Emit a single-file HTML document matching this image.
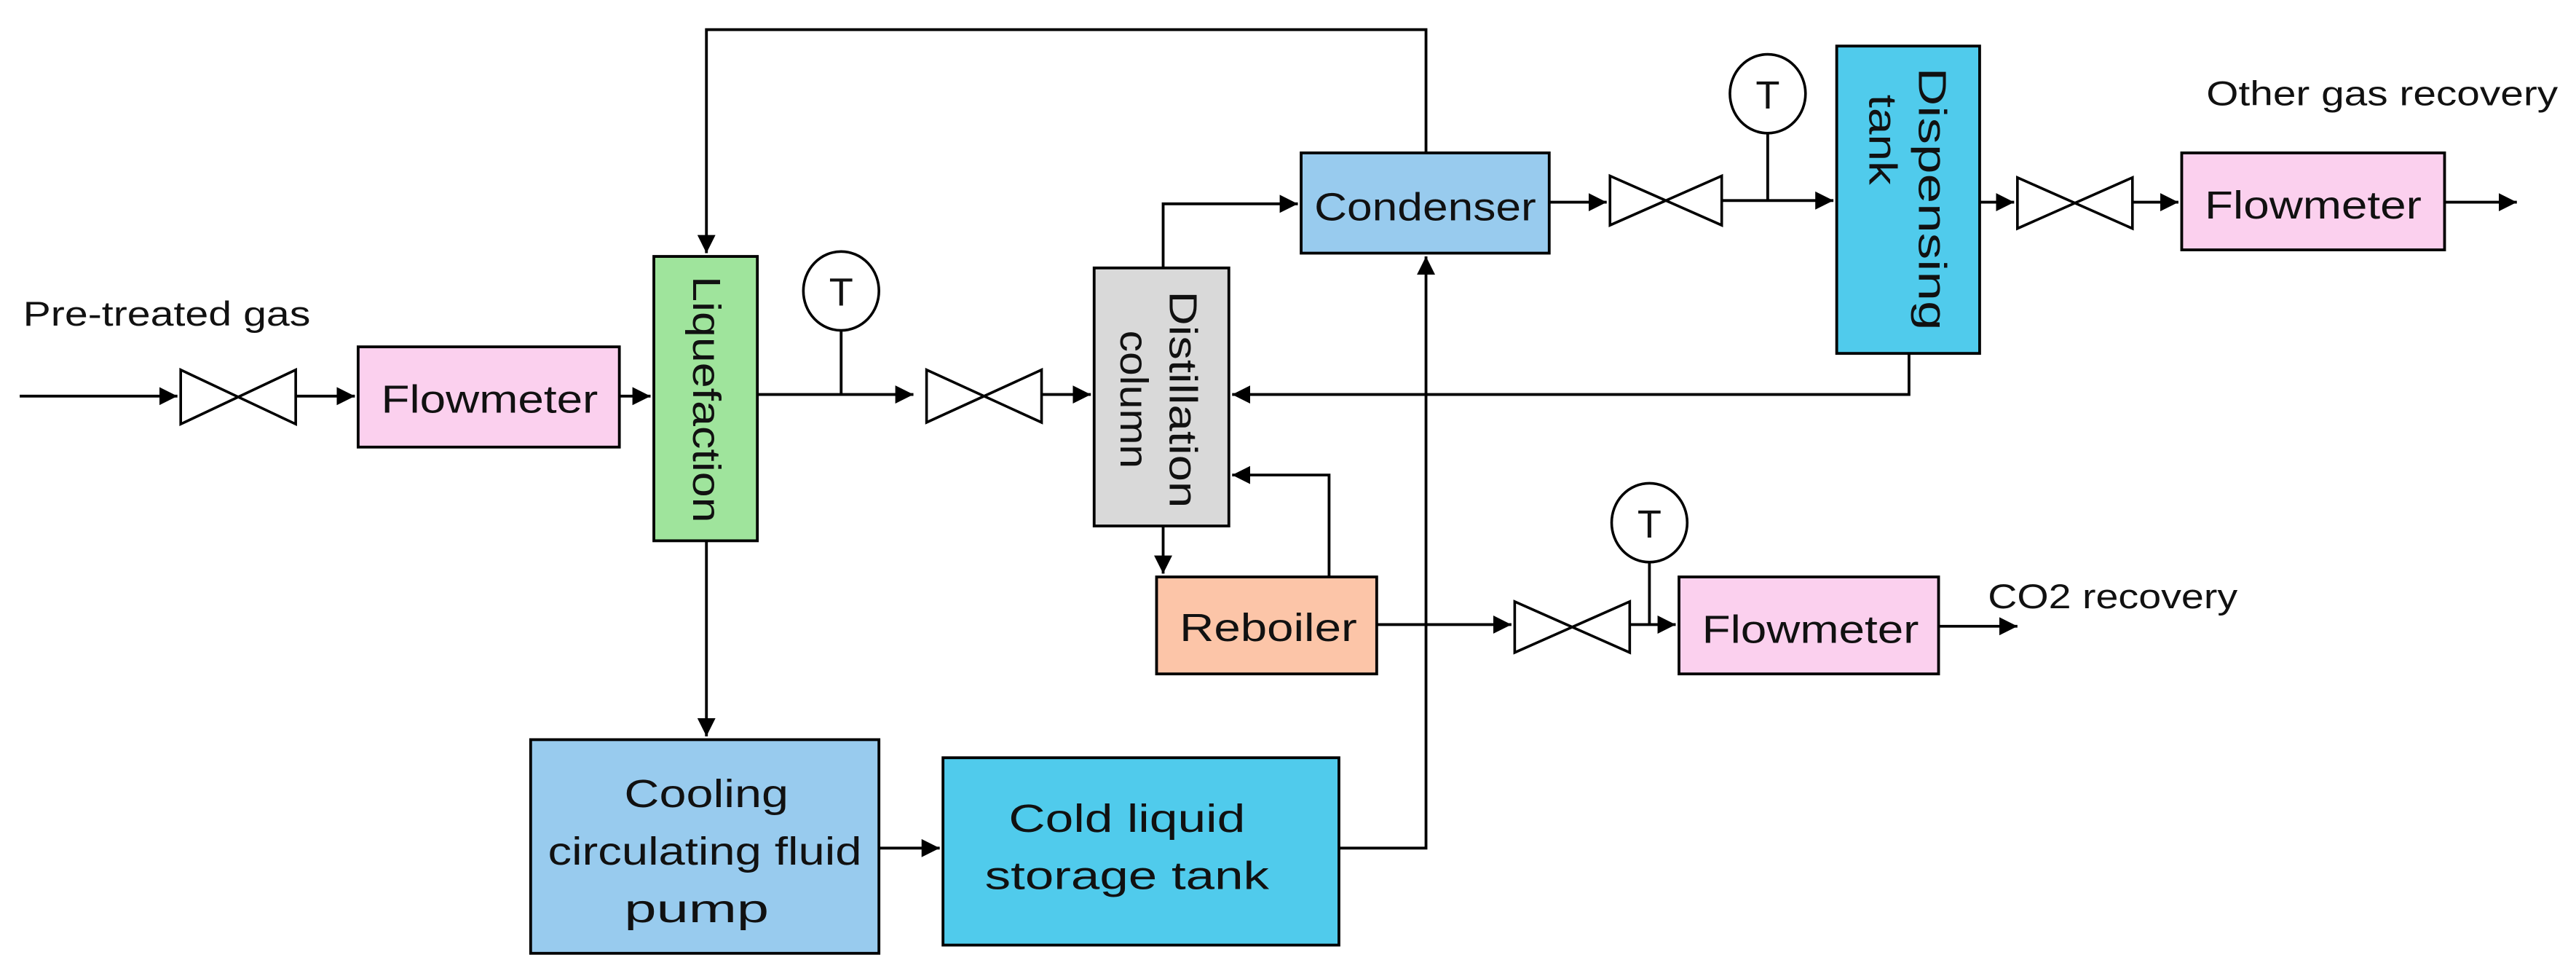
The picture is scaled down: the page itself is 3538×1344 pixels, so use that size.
<!DOCTYPE html>
<html><head><meta charset="utf-8"><style>
html,body{margin:0;padding:0;background:#fff;}
svg{display:block;}
text{font-family:"Liberation Sans Narrow","Liberation Sans",sans-serif;fill:#111;}
</style></head><body>
<svg width="3538" height="1344" viewBox="0 0 1568 595.6" xmlns="http://www.w3.org/2000/svg">
<defs>
<marker id="a" viewBox="0 0 10 10" refX="10" refY="5" markerWidth="6.5" markerHeight="6.5" markerUnits="strokeWidth" orient="auto"><path d="M0,0 L10,5 L0,10 Z" fill="#000"/></marker>
</defs>
<g fill="none" stroke="#000" stroke-width="1.7">
<line x1="12" y1="241" x2="108" y2="241" marker-end="url(#a)"/>
<line x1="180" y1="241" x2="216" y2="241" marker-end="url(#a)"/>
<line x1="377" y1="241" x2="396" y2="241" marker-end="url(#a)"/>
<polyline points="868,93 868,18 430,18 430,154" marker-end="url(#a)"/>
<line x1="461" y1="240" x2="556" y2="240" marker-end="url(#a)"/>
<line x1="512" y1="201" x2="512" y2="240"/>
<line x1="634" y1="240" x2="664" y2="240" marker-end="url(#a)"/>
<polyline points="708,163 708,124 790,124" marker-end="url(#a)"/>
<line x1="943" y1="123" x2="978" y2="123" marker-end="url(#a)"/>
<line x1="1048" y1="122" x2="1116" y2="122" marker-end="url(#a)"/>
<line x1="1076" y1="81" x2="1076" y2="122"/>
<polyline points="1162,215 1162,240 750,240" marker-end="url(#a)"/>
<line x1="1205" y1="123" x2="1226" y2="123" marker-end="url(#a)"/>
<line x1="1298" y1="123" x2="1326" y2="123" marker-end="url(#a)"/>
<line x1="1488" y1="123" x2="1532" y2="123" marker-end="url(#a)"/>
<line x1="708" y1="320" x2="708" y2="349" marker-end="url(#a)"/>
<polyline points="809,351 809,289 750,289" marker-end="url(#a)"/>
<line x1="838" y1="380" x2="920" y2="380" marker-end="url(#a)"/>
<line x1="1004" y1="342" x2="1004" y2="380"/>
<line x1="992" y1="380" x2="1020" y2="380" marker-end="url(#a)"/>
<line x1="1180" y1="381" x2="1228" y2="381" marker-end="url(#a)"/>
<line x1="430" y1="329" x2="430" y2="448" marker-end="url(#a)"/>
<line x1="535" y1="516" x2="572" y2="516" marker-end="url(#a)"/>
<polyline points="815,516 868,516 868,156" marker-end="url(#a)"/>
</g>
<g fill="#fff" stroke="#000" stroke-width="1.6">
<path d="M110,225 L180,258 L180,225 L110,258 Z"/>
<path d="M564,225 L634,257 L634,225 L564,257 Z"/>
<path d="M980,107 L1048,137 L1048,107 L980,137 Z"/>
<path d="M1228,108 L1298,139 L1298,108 L1228,139 Z"/>
<path d="M922,366 L992,397 L992,366 L922,397 Z"/>
<ellipse cx="512" cy="177" rx="23" ry="24"/>
<ellipse cx="1076" cy="57" rx="23" ry="24"/>
<ellipse cx="1004" cy="318" rx="23" ry="24"/>
</g>
<g stroke="#000" stroke-width="1.7">
<rect x="218" y="211" width="159" height="61" fill="#fbd0ee"/>
<rect x="398" y="156" width="63" height="173" fill="#9fe49c"/>
<rect x="666" y="163" width="82" height="157" fill="#d9d9d9"/>
<rect x="792" y="93" width="151" height="61" fill="#98cbee"/>
<rect x="1118" y="28" width="87" height="187" fill="#50cbec"/>
<rect x="1328" y="93" width="160" height="59" fill="#fbd0ee"/>
<rect x="704" y="351" width="134" height="59" fill="#fcc5a8"/>
<rect x="1022" y="351" width="158" height="59" fill="#fbd0ee"/>
<rect x="323" y="450" width="212" height="130" fill="#98cbee"/>
<rect x="574" y="461" width="241" height="114" fill="#50cbec"/>
</g>
<g font-size="21">
<text x="14" y="198" textLength="175" lengthAdjust="spacingAndGlyphs">Pre-treated gas</text>
<text x="232" y="251" font-size="24" textLength="132" lengthAdjust="spacingAndGlyphs">Flowmeter</text>
<text x="800" y="134" font-size="24" textLength="135" lengthAdjust="spacingAndGlyphs">Condenser</text>
<text x="1342" y="133" font-size="24" textLength="132" lengthAdjust="spacingAndGlyphs">Flowmeter</text>
<text x="1036" y="391" font-size="24" textLength="132" lengthAdjust="spacingAndGlyphs">Flowmeter</text>
<text x="718" y="390" font-size="24" textLength="108" lengthAdjust="spacingAndGlyphs">Reboiler</text>
<text x="1343" y="64" textLength="214" lengthAdjust="spacingAndGlyphs">Other gas recovery</text>
<text x="1210" y="370" textLength="152" lengthAdjust="spacingAndGlyphs">CO2 recovery</text>
<text x="430" y="491" font-size="24" text-anchor="middle" textLength="100" lengthAdjust="spacingAndGlyphs">Cooling</text>
<text x="429" y="526" font-size="24" text-anchor="middle" textLength="191" lengthAdjust="spacingAndGlyphs">circulating fluid</text>
<text x="424" y="561" font-size="24" text-anchor="middle" textLength="88" lengthAdjust="spacingAndGlyphs">pump</text>
<text x="686" y="506" font-size="24" text-anchor="middle" textLength="144" lengthAdjust="spacingAndGlyphs">Cold liquid</text>
<text x="686" y="541" font-size="24" text-anchor="middle" textLength="173" lengthAdjust="spacingAndGlyphs">storage tank</text>
<text x="512" y="186" font-size="24" text-anchor="middle">T</text>
<text x="1076" y="66" font-size="24" text-anchor="middle">T</text>
<text x="1004" y="327" font-size="24" text-anchor="middle">T</text>
<text transform="translate(430,243) rotate(90)" font-size="24" text-anchor="middle" dy="8" textLength="150" lengthAdjust="spacingAndGlyphs">Liquefaction</text>
<text transform="translate(720,243) rotate(90)" font-size="24" text-anchor="middle" dy="8" textLength="132" lengthAdjust="spacingAndGlyphs">Distillation</text>
<text transform="translate(690,243) rotate(90)" font-size="24" text-anchor="middle" dy="8" textLength="84" lengthAdjust="spacingAndGlyphs">column</text>
<text transform="translate(1176,121) rotate(90)" font-size="24" text-anchor="middle" dy="8" textLength="160" lengthAdjust="spacingAndGlyphs">Dispensing</text>
<text transform="translate(1146,85) rotate(90)" font-size="24" text-anchor="middle" dy="8" textLength="55" lengthAdjust="spacingAndGlyphs">tank</text>
</g>
</svg>
</body></html>
